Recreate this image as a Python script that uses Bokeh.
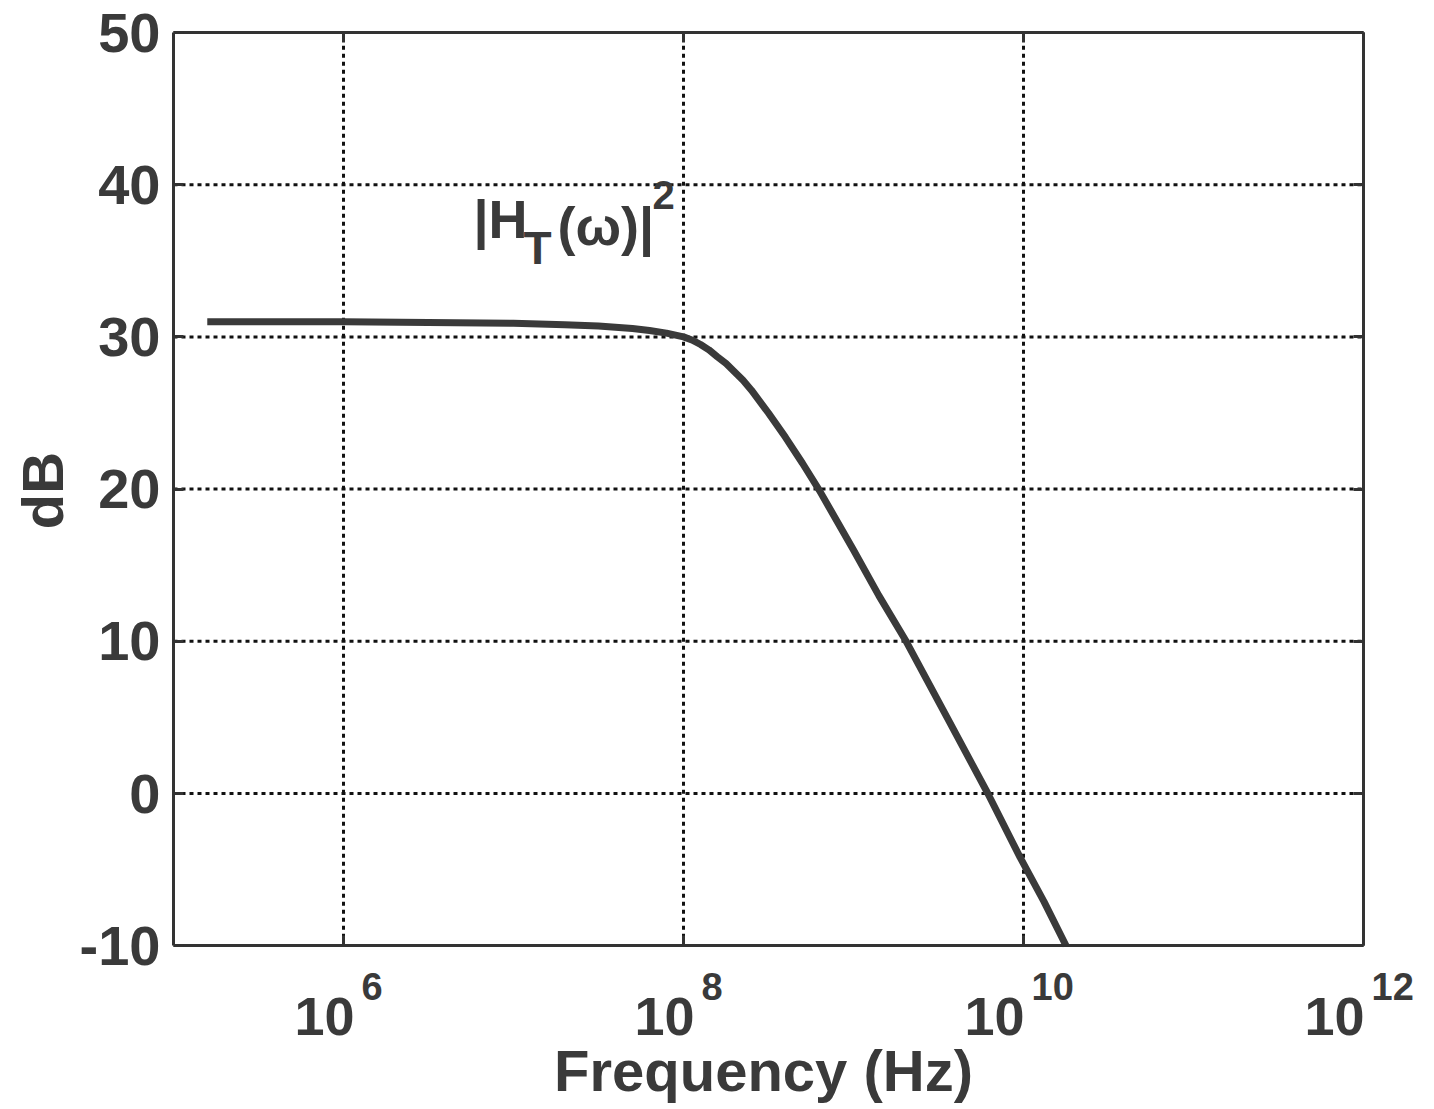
import math
from bokeh.plotting import figure
from bokeh.models import LogAxis, LinearAxis, FixedTicker, Label
from bokeh.embed import file_html
from bokeh.resources import INLINE

# ---- data ----
freq_hz = [1.58e5, 3.16e5, 1.0e6, 3.16e6, 1.0e7, 2.0e7, 3.16e7, 5.01e7, 6.31e7, 7.94e7,
           1.0e8, 1.12e8, 1.26e8, 1.41e8, 1.58e8, 1.78e8, 2.0e8, 2.24e8, 2.51e8,
           3.16e8, 3.98e8, 5.01e8, 6.31e8, 1.0e9, 1.41e9, 2.04e9, 3.55e9, 6.17e9,
           9.55e9, 1.32e10, 1.78e10]
gain_db = [31.0, 31.0, 31.0, 30.95, 30.9, 30.8, 30.72, 30.55, 30.42, 30.25,
           30.0, 29.8, 29.5, 29.15, 28.7, 28.25, 27.7, 27.15, 26.5,
           25.0, 23.4, 21.7, 19.9, 16.0, 13.0, 10.0, 5.0, 0.0,
           -4.2, -7.1, -10.0]
y_ticks = [-10, 0, 10, 20, 30, 40, 50]
y_tick_labels = ["-10", "0", "10", "20", "30", "40", "50"]
x_tick_exponents = [6, 8, 10, 12]
x_ticks = [1e6, 1e8, 1e10, 1e12]
x_limits = (1e5, 1e12)
y_limits = (-10, 50)
x_title = "Frequency (Hz)"
y_title = "dB"
annotation_parts = ["|H", "T", "(ω)|", "2"]

FONT = "Liberation Sans"
TXT = "#3a3a3a"
AX = "#333333"

# ---- layout (page pixels) ----
# plot box: 173..1363 (x) and 32..945 (y); the frame covers the whole canvas so
# that all texts can be placed as annotations.
BOX_L, BOX_T = 173, 32
PX_PER_DEC = 170.0
PX_PER_DB = 15.22
FW, FH = 1428, 1105

def lx(px):  # page x -> data x
    return 10 ** (math.log10(x_limits[0]) + (px - BOX_L) / PX_PER_DEC)

def ly(py):  # page y -> data y
    return y_limits[1] - (py - BOX_T) / PX_PER_DB

def mid(baseline, fs):  # baseline row -> centre row of the text box
    return baseline - 0.3465 * fs

p = figure(frame_width=FW, frame_height=FH, x_axis_type="log",
           x_range=(lx(0), lx(FW)), y_range=(ly(FH), ly(0)),
           output_backend="svg", toolbar_location=None,
           min_border_left=0, min_border_right=0, min_border_top=0, min_border_bottom=0,
           background_fill_color="white", border_fill_color="white")
p.outline_line_color = None
p.xgrid.visible = False
p.ygrid.visible = False

def style_axis(ax, ticks):
    ax.ticker = FixedTicker(ticks=ticks)
    ax.major_label_overrides = {t: "" for t in ticks}
    ax.major_label_standoff = 0
    ax.axis_line_color = AX
    ax.axis_line_width = 3
    ax.major_tick_line_color = AX
    ax.major_tick_line_width = 3
    ax.major_tick_in = 10
    ax.major_tick_out = 0
    ax.minor_tick_in = 0
    ax.minor_tick_out = 0
    ax.minor_tick_line_color = None

# dotted grid inside the plot box only (at the inner tick positions)
gx = x_ticks[:-1]
gy = y_ticks[1:-1]
grid_style = dict(line_color="#111111", line_width=3, line_dash="4 4")
p.segment(x0=gx, y0=[y_limits[0]] * len(gx), x1=gx, y1=[y_limits[1]] * len(gx), **grid_style)
p.segment(x0=[x_limits[0]] * len(gy), y0=gy, x1=[x_limits[1]] * len(gy), y1=gy, **grid_style)

# box axes
xax = p.xaxis[0]
style_axis(xax, x_ticks)
xax.fixed_location = y_limits[0]
xax.bounds = x_limits
yax = p.yaxis[0]
style_axis(yax, y_ticks)
yax.fixed_location = x_limits[0]
yax.bounds = y_limits

top = LogAxis(fixed_location=y_limits[1], bounds=x_limits)
style_axis(top, x_ticks)
p.add_layout(top, "above")
right = LinearAxis(fixed_location=x_limits[1], bounds=y_limits)
style_axis(right, y_ticks)
p.add_layout(right, "right")

# curve
p.line(freq_hz, gain_db, line_width=7, line_color="#3a3a3a", line_join="round")

def label(x, y, text, fs, align="left", **kw):
    p.add_layout(Label(x=x, y=y, text=text, text_align=align, text_baseline="middle",
                       text_font=FONT, text_font_style="bold", text_font_size=f"{fs}px",
                       text_color=TXT, **kw))

# y tick labels
for t, s in zip(y_ticks, y_tick_labels):
    label(x_limits[0], t, s, 56, align="right", x_offset=-13)

# x tick labels: 10 with superscript exponent
for t, e in zip(x_ticks, x_tick_exponents):
    es = str(e)
    exp_w = 20 * len(es)
    right_edge = (55 - 7 - exp_w) / 2 - 3
    label(t, ly(mid(1035, 54)), "10", 54, align="right", x_offset=right_edge)
    label(t, ly(mid(999, 38)), es, 38, align="left", x_offset=right_edge + 7)

# axis titles
label(lx(763), ly(mid(1090, 58)), x_title, 58, align="center")
label(lx(41.5), ly(490), y_title, 58, align="center", angle=math.pi / 2)

# curve annotation |H_T(ω)|^2
ann_pos = [(473, 237, 54), (523, 263, 46), (557, 244, 54), (652, 208, 40)]
for txt, (px, py, fs) in zip(annotation_parts, ann_pos):
    label(lx(px), ly(mid(py, fs)), txt, fs)

open("out.html", "w").write(file_html(p, INLINE))
